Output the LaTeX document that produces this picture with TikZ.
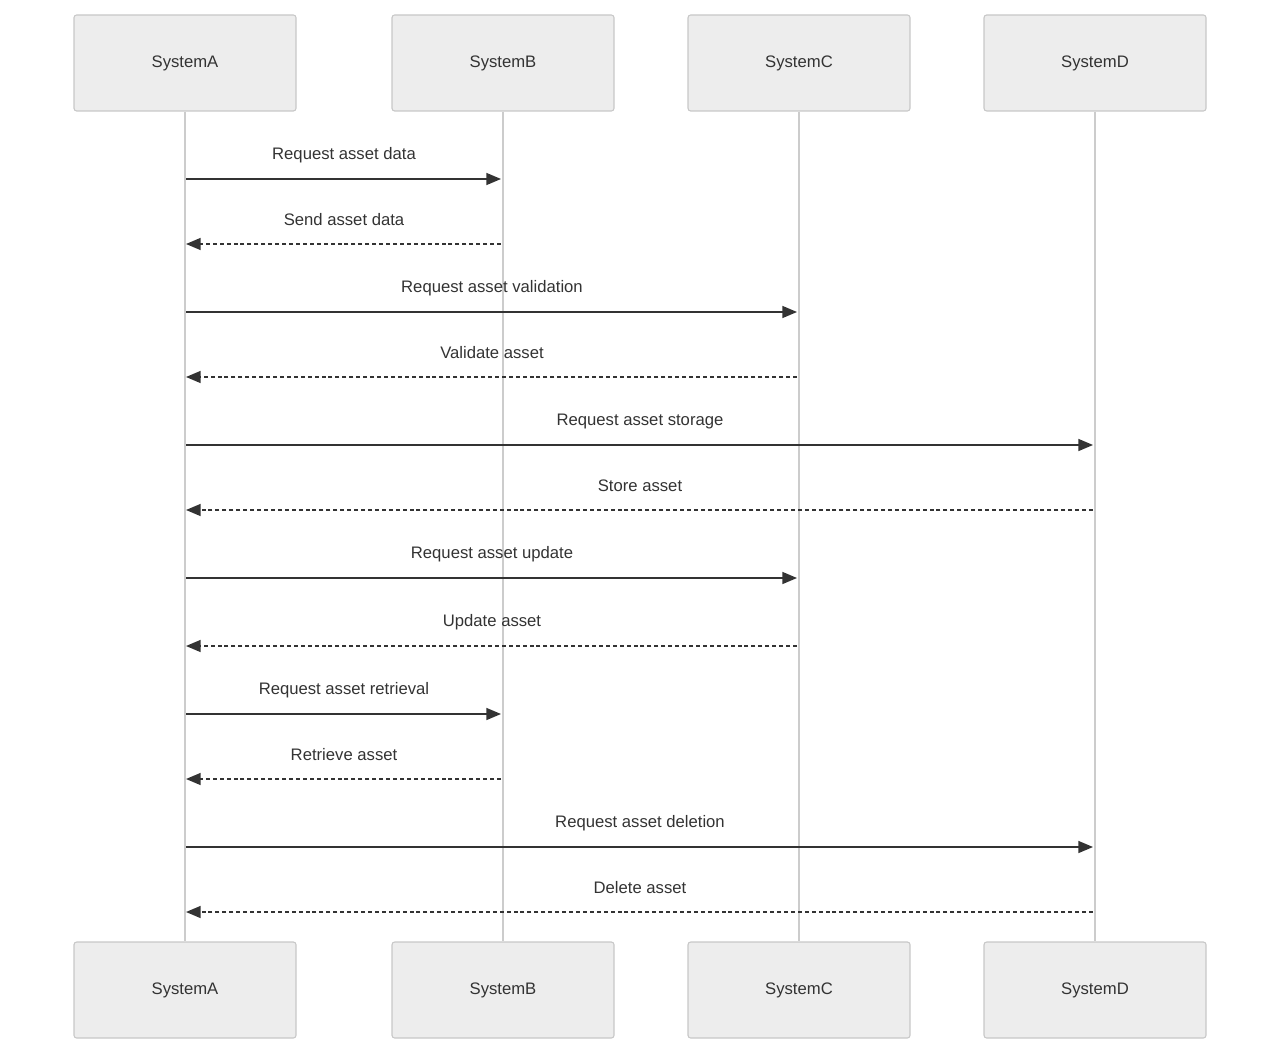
\documentclass[tikz,border=0pt]{standalone}
\usepackage{fontspec}
\setmainfont{Liberation Sans}
\usetikzlibrary{arrows.meta,calc}
\begin{document}
\begin{tikzpicture}[x=0.75pt,y=-0.75pt,
  actor/.style={draw=black!22,fill=black!7,line width=0.8pt,rounded corners=2pt,minimum width=166.5pt,minimum height=72pt,font=\fontsize{12.5}{14}\selectfont,text=black!80,inner sep=0pt},
  life/.style={draw=black!20,line width=1.6pt},
  msg/.style={draw=black!80,line width=1.1pt,-{Triangle[length=11pt,width=9pt]}},
  ret/.style={msg,dash pattern=on 3pt off 2.2pt},
  lbl/.style={font=\fontsize{12.5}{14}\selectfont,text=black!80,inner sep=0pt}]
\useasboundingbox (0,0) rectangle (1280,1055);
\foreach \n/\x in {A/185,B/503,C/799,D/1095}{
  \node[actor] (t\n) at (\x,63) {System\n};
  \node[actor] (b\n) at (\x,990) {System\n};
  \draw[life] (t\n) -- (b\n);
}
\foreach \i/\f/\t/\y/\s/\a/\b/\txt in {
 1/A/B/179/msg/1/-2/Request asset data,
 2/B/A/244/ret/-2/1/Send asset data,
 3/A/C/312/msg/1/-2/Request asset validation,
 4/C/A/377/ret/-2/1/Validate asset,
 5/A/D/445/msg/1/-2/Request asset storage,
 6/D/A/510/ret/-2/1/Store asset,
 7/A/C/578/msg/1/-2/Request asset update,
 8/C/A/646/ret/-2/1/Update asset,
 9/A/B/714/msg/1/-2/Request asset retrieval,
 10/B/A/779/ret/-2/1/Retrieve asset,
 11/A/D/847/msg/1/-2/Request asset deletion,
 12/D/A/912/ret/-2/1/Delete asset}{
  \coordinate (s\i) at (t\f |- 0,\y);
  \coordinate (e\i) at (t\t |- 0,\y);
  \draw[\s] ($(s\i)+(\a,0)$) -- ($(e\i)+(\b,0)$);
  \node[lbl] at ($(s\i)!0.5!(e\i)+(0,-24)$) {\txt};
}
\end{tikzpicture}
\end{document}
